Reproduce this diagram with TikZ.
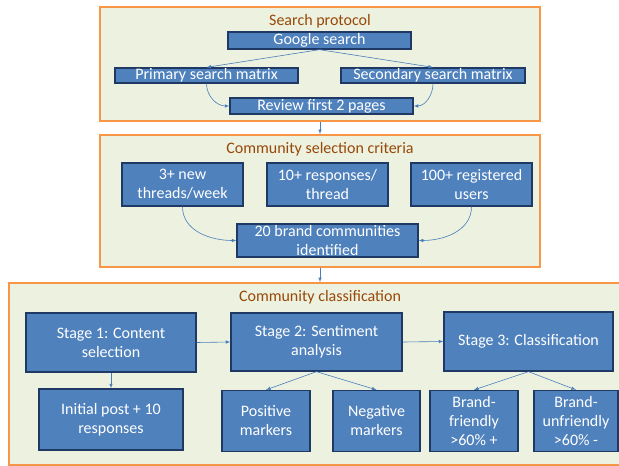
\documentclass[tikz,border=0pt]{standalone}
\usepackage{fontspec}
\setmainfont{Carlito}
\usepackage{tikz}
\definecolor{frameFill}{RGB}{236,241,224}
\definecolor{frameLine}{RGB}{247,150,70}
\definecolor{titleText}{RGB}{152,72,7}
\definecolor{boxFill}{RGB}{79,129,189}
\definecolor{boxLine}{RGB}{31,56,100}
\definecolor{linkLine}{RGB}{74,126,187}

\begin{document}
\begin{tikzpicture}[x=1pt,y=-1pt,
    frame/.style={draw=frameLine,fill=frameFill,line width=1.6pt,inner sep=0pt},
    ttl/.style={text=titleText,font=\fontsize{16}{19}\selectfont,inner sep=0pt},
    box/.style={draw=boxLine,fill=boxFill,line width=1.3pt,text=white,align=center,font=\fontsize{16}{19}\selectfont,inner sep=0pt},
    link/.style={draw=linkLine,line width=0.6pt,-latex}]
    \useasboundingbox[fill=white] (0,0) rectangle (619,466);
        \node[frame,minimum width=440,minimum height=114] (frameA) at (320,64) {};
        \node[frame,minimum width=440,minimum height=132] (frameB) at (320,201) {};
        \node[frame,minimum width=622,minimum height=182] (frameC) at (320,374) {};
        \node[ttl] (titleA) at (320,21) {Search protocol};
        \node[ttl] (titleB) at (320,149.5) {Community selection criteria};
        \node[ttl] (titleC) at (320,297) {Community classification};
        \node[box,minimum width=183,minimum height=17] (google) at (319.5,40.5) {Google search};
        \node[box,minimum width=183,minimum height=15] (primary) at (206.5,75.5) {Primary search matrix};
        \node[box,minimum width=184,minimum height=15] (secondary) at (433,75.5) {Secondary search matrix};
        \node[box,minimum width=183,minimum height=16] (review) at (321.5,106) {Review first 2 pages};
        \node[box,minimum width=121,minimum height=43] (crit1) at (182.5,184.5) {3+ new\\threads/week};
        \node[box,minimum width=121,minimum height=43] (crit2) at (327.5,184.5) {10+ responses/\\thread};
        \node[box,minimum width=121,minimum height=43] (crit3) at (471.5,184.5) {100+ registered\\users};
        \node[box,minimum width=181,minimum height=33] (brands) at (327.5,240.5) {20 brand communities\\identified};
        \node[box,minimum width=170,minimum height=59] (stage1) at (111,342.5) {Stage 1: Content\\selection};
        \node[box,minimum width=171,minimum height=58] (stage2) at (316.5,342) {Stage 2: Sentiment\\analysis};
        \node[box,minimum width=169,minimum height=59] (stage3) at (528.5,341.5) {Stage 3: Classification};
        \node[box,minimum width=144,minimum height=61] (initial) at (111,419.5) {Initial post + 10\\responses};
        \node[box,minimum width=88,minimum height=61] (positive) at (266,421) {Positive\\markers};
        \node[box,minimum width=87,minimum height=61] (negative) at (376.5,421) {Negative\\markers};
        \node[box,minimum width=88,minimum height=61] (friendly) at (474,421) {Brand-\\friendly\\>60\% +};
        \node[box,minimum width=84,minimum height=61] (unfriendly) at (576,421) {Brand-\\unfriendly\\>60\% -};
        \draw[link] (google.south) -- (primary.north);
        \draw[link] (google.south) -- (secondary.north);
        \draw[link] (primary.south) to[out=-90,in=180] (review.west);
        \draw[link] (secondary.south) to[out=-90,in=0] (review.east);
        \draw[link] (frameA.south) -- (frameB.north);
        \draw[link] (crit1.south) to[out=-90,in=180] (brands.west);
        \draw[link] (crit3.south) to[out=-90,in=0] (brands.east);
        \draw[link] (frameB.south) -- (frameC.north);
        \draw[link] (stage1.east) -- (stage2.west);
        \draw[link] (stage2.east) -- (stage3.west);
        \draw[link] (stage1.south) -- (initial.north);
        \draw[link] (stage2.south) -- (positive.north);
        \draw[link] (stage2.south) -- (negative.north);
        \draw[link] (stage3.south) -- (friendly.north);
        \draw[link] (stage3.south) -- (unfriendly.north);
    \end{tikzpicture}
\end{document}
